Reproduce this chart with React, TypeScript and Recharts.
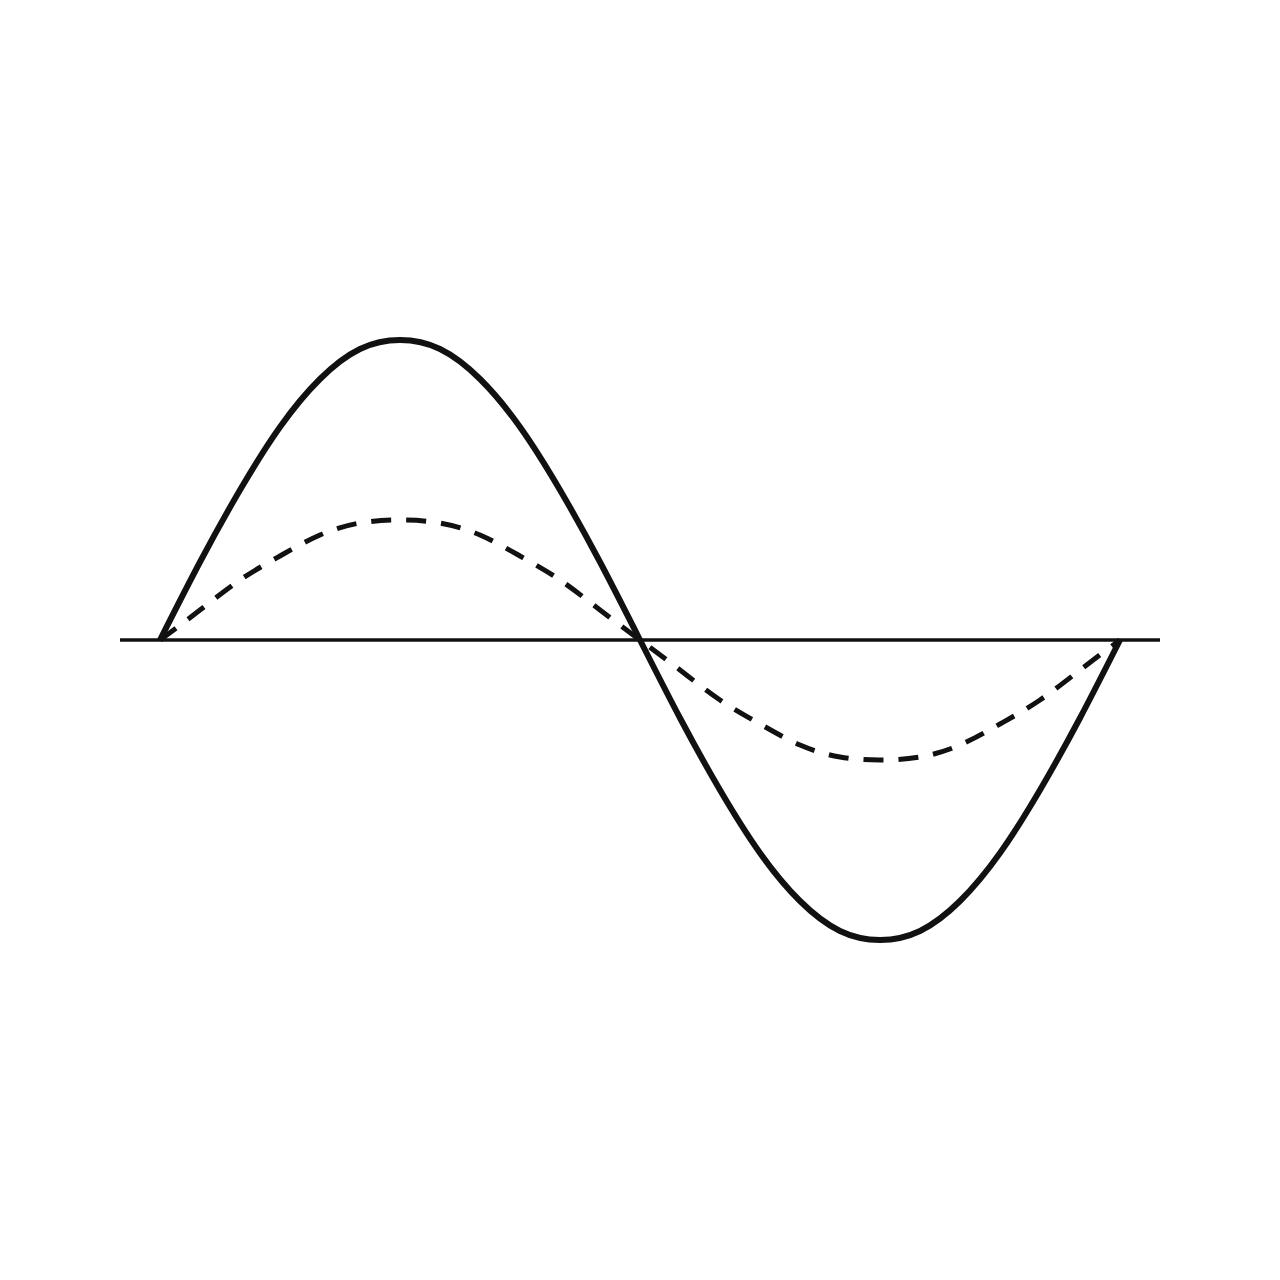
import React from "react";
import { LineChart, Line, XAxis, YAxis, ReferenceLine } from "recharts";

const angles = [0, 15, 30, 45, 60, 75, 90, 105, 120, 135, 150, 165, 180, 195, 210, 225, 240, 255, 270, 285, 300, 315, 330, 345, 360];
const solidValues = [0, 0.26, 0.5, 0.71, 0.87, 0.97, 1, 0.97, 0.87, 0.71, 0.5, 0.26, 0, -0.26, -0.5, -0.71, -0.87, -0.97, -1, -0.97, -0.87, -0.71, -0.5, -0.26, 0];
const dashedValues = [0, 0.1, 0.2, 0.28, 0.35, 0.39, 0.4, 0.39, 0.35, 0.28, 0.2, 0.1, 0, -0.1, -0.2, -0.28, -0.35, -0.39, -0.4, -0.39, -0.35, -0.28, -0.2, -0.1, 0];

const data = angles.map((a, i) => ({ x: a, solid: solidValues[i], dashed: dashedValues[i] }));

export default function App() {
  return (
    <div style={{ position: "absolute", left: 0, top: 0, width: 1280, height: 1280, background: "#fff" }}>
      <LineChart width={1280} height={1280} data={data} margin={{ top: 40, right: 120, bottom: 40, left: 120 }}>
        <XAxis dataKey="x" type="number" domain={[-15, 375]} hide />
        <YAxis type="number" domain={[-2, 2]} hide />
        <ReferenceLine y={0} stroke="#111" strokeWidth={3.5} ifOverflow="extendDomain" />
        <Line type="natural" dataKey="dashed" stroke="#111" strokeWidth={5} strokeDasharray="20 15" dot={false} isAnimationActive={false} />
        <Line type="natural" dataKey="solid" stroke="#111" strokeWidth={6} dot={false} isAnimationActive={false} />
      </LineChart>
    </div>
  );
}
